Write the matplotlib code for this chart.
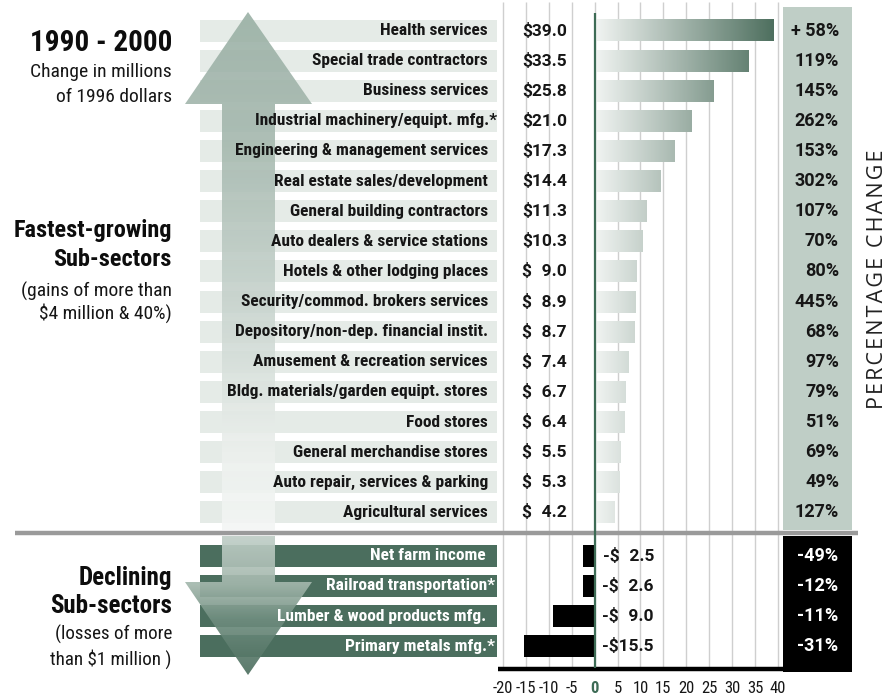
import numpy as np
import matplotlib
matplotlib.use("Agg")
import matplotlib.pyplot as plt
from matplotlib.patches import Polygon, Rectangle
from matplotlib.colors import LinearSegmentedColormap
from matplotlib import font_manager

# ---- data -------------------------------------------------------------
gain_labels = [
    "Health services", "Special trade contractors", "Business services",
    "Industrial machinery/equipt. mfg.*", "Engineering & management services",
    "Real estate sales/development", "General building contractors",
    "Auto dealers & service stations", "Hotels & other lodging places",
    "Security/commod. brokers services", "Depository/non-dep. financial instit.",
    "Amusement & recreation services", "Bldg. materials/garden equipt. stores",
    "Food stores", "General merchandise stores", "Auto repair, services & parking",
    "Agricultural services",
]
gain_values = [39.0, 33.5, 25.8, 21.0, 17.3, 14.4, 11.3, 10.3, 9.0, 8.9,
               8.7, 7.4, 6.7, 6.4, 5.5, 5.3, 4.2]
gain_pct = ["+ 58%", "119%", "145%", "262%", "153%", "302%", "107%", "70%",
            "80%", "445%", "68%", "97%", "79%", "51%", "69%", "49%", "127%"]

loss_labels = ["Net farm income", "Railroad transportation*",
               "Lumber & wood products mfg.", "Primary metals mfg.*"]
loss_values = [-2.5, -2.6, -9.0, -15.5]
loss_pct = ["-49%", "-12%", "-11%", "-31%"]

x_ticks = [-20, -15, -10, -5, 0, 5, 10, 15, 20, 25, 30, 35, 40]

# ---- fonts ------------------------------------------------------------
installed = {f.name for f in font_manager.fontManager.ttflist}


def pick(*names):
    return [f for f in list(names) + ["DejaVu Sans"] if f in installed]


NARROW = pick("Roboto Condensed", "Liberation Sans Narrow", "Lato", "Roboto")
NUMS = pick("Roboto", "Lato", "Open Sans")
PLAIN = pick("Open Sans", "Lato")
plt.rcParams["font.family"] = NARROW

# ---- colours ----------------------------------------------------------
BAND = "#e5ebe7"
DARK_GREEN = "#4b6e5e"
ZERO_GREEN = "#3d6b55"
PCT_BOX = "#bfcec6"
GRID = "#cfcfcf"
SEP = "#9a9a9a"
INK = "#161616"

bar_cmap = LinearSegmentedColormap.from_list("bar", ["#f1f4f2", "#4a6c5b"])
up_cmap = LinearSegmentedColormap.from_list(
    "up", [(0.0, "#9ab0a5"), (0.25, "#a5b8ae"), (0.55, "#c6d2cc"),
           (0.85, "#ecf0ed"), (1.0, "#f4f6f5")])
down_cmap = LinearSegmentedColormap.from_list(
    "down", [(0.0, "#c0cec7"), (0.35, "#a3b7ac"), (0.6, "#6f8d7f"), (1.0, "#4d6f5f")])

# ---- figure & coordinate system --------------------------------------
W, H = 887, 698
fig = plt.figure(figsize=(W / 100, H / 100), dpi=100)
ax = fig.add_axes([0, 0, 1, 1])

# horizontal: -20 .. 40 spans 503 .. 778 px ; vertical: one unit per row
PX0, PX1 = 503.0, 778.0
UPX = 60.0 / (PX1 - PX0)
ROW0, ROWH = 30.5, 30.12


def xd(px):
    return -20 + (px - PX0) * UPX


def yd(py):
    return (py - ROW0) / ROWH


gain_y = np.arange(len(gain_values), dtype=float)
loss_y = yd(555.5) + np.arange(len(loss_values)) * (30.3 / ROWH)
BH = 22 / ROWH  # bar thickness in row units

# vertical grid lines and zero line
ax.vlines(x_ticks, yd(2), yd(668), color=GRID, lw=1.0, zorder=1)
ax.vlines(0, yd(13), yd(668), color=ZERO_GREEN, lw=1.6, zorder=6)

# percentage-change columns
ax.add_patch(Rectangle((xd(783), yd(7)), xd(852) - xd(783), yd(530) - yd(7),
                       fc=PCT_BOX, ec="none", zorder=2))
ax.add_patch(Rectangle((xd(783), yd(536)), xd(852) - xd(783), yd(672) - yd(536),
                       fc="black", ec="none", zorder=2))

# label bands
for y in gain_y:
    ax.add_patch(Rectangle((xd(200), y - BH / 2), xd(497) - xd(200), BH,
                           fc=BAND, ec="none", zorder=2))
for y in loss_y:
    ax.add_patch(Rectangle((xd(200), y - BH / 2), xd(497) - xd(200), BH,
                           fc=DARK_GREEN, ec="none", zorder=2))


def gradient_arrow(pts_px, cmap, top_px, bot_px, alpha=1.0):
    pts = [(xd(x), yd(y)) for x, y in pts_px]
    poly = Polygon(pts, closed=True, fc="none", ec="none", zorder=3)
    ax.add_patch(poly)
    grad = np.linspace(0, 1, 256)[:, None]
    xs = [p[0] for p in pts]
    im = ax.imshow(grad, cmap=cmap, aspect="auto", interpolation="bilinear",
                   extent=(min(xs), max(xs), yd(bot_px), yd(top_px)),
                   zorder=3, alpha=alpha)
    im.set_clip_path(poly)


# up arrow (growth) and down arrow (decline)
gradient_arrow([(248, 12), (312, 104), (275, 104), (275, 530), (222, 530),
                (222, 104), (185, 104)], up_cmap, 12, 530, alpha=0.9)
gradient_arrow([(222, 536), (275, 536), (275, 582), (312, 582), (248, 675),
                (185, 582), (222, 582)], down_cmap, 536, 675, alpha=0.92)

# gradient bars for gains
for y, v in zip(gain_y, gain_values):
    ax.imshow(np.linspace(0, v, 256)[None, :], cmap=bar_cmap, vmin=0, vmax=40,
              aspect="auto", interpolation="bilinear",
              extent=(0, v, y + BH / 2, y - BH / 2), zorder=4)
# solid bars for losses
ax.barh(loss_y, loss_values, height=BH, color="black", zorder=4)

ax.set_xlim(xd(0), xd(W))
ax.set_ylim(yd(H), yd(0))
ax.axis("off")

# separator and base line
ax.hlines(yd(533), xd(15), xd(858), color=SEP, lw=3.2, zorder=5)
ax.hlines(yd(669), xd(498), xd(852), color="black", lw=3.2, zorder=5)

LBL = 12.5
VAL = 12.5
PCT = 13
FIG_SP = "\u2007"  # digit-width space keeps the dollar signs lined up


def label_x(name, base):
    # footnote asterisks hang past the common right edge
    return xd(base + 9) if name.endswith("*") else xd(base)


def money(v):
    s = f"{abs(v):.1f}"
    return ("-$" if v < 0 else "$") + FIG_SP * (4 - len(s)) + s


for y, name, v, p in zip(gain_y, gain_labels, gain_values, gain_pct):
    ax.text(label_x(name, 488), y, name, ha="right", va="center", fontsize=LBL,
            fontweight="bold", color=INK, zorder=7)
    ax.text(xd(567), y, money(v), ha="right", va="center", fontsize=VAL,
            fontweight="bold", color=INK, family=NUMS, zorder=7)
    ax.text(xd(839), y, p, ha="right", va="center", fontsize=PCT,
            fontweight="bold", color=INK, family=NUMS, zorder=7)

for y, name, v, p in zip(loss_y, loss_labels, loss_values, loss_pct):
    ax.text(label_x(name, 486), y, name, ha="right", va="center", fontsize=LBL,
            fontweight="bold", color="white", zorder=7)
    ax.text(xd(654), y, money(v), ha="right", va="center", fontsize=VAL,
            fontweight="bold", color=INK, family=NUMS, zorder=7)
    ax.text(xd(838), y, p, ha="right", va="center", fontsize=PCT,
            fontweight="bold", color="white", family=NUMS, zorder=7)

# axis tick labels
for t in x_ticks:
    ax.text(t, yd(688), str(t), ha="center", va="center", fontsize=12,
            color=ZERO_GREEN if t == 0 else INK,
            fontweight="bold" if t == 0 else "normal", zorder=7)

# titles and section headings
RX = xd(172)
ax.text(RX, yd(43), "1990 - 2000", ha="right", va="center", fontsize=21,
        fontweight="bold", color="#0d0d0d")
ax.text(RX, yd(72), "Change in millions", ha="right", va="center", fontsize=14,
        color=INK)
ax.text(RX, yd(97), "of 1996 dollars", ha="right", va="center", fontsize=14,
        color=INK)

ax.text(RX, yd(231), "Fastest-growing", ha="right", va="center", fontsize=17.5,
        fontweight="bold", color="#0d0d0d")
ax.text(RX, yd(259), "Sub-sectors", ha="right", va="center", fontsize=17.5,
        fontweight="bold", color="#0d0d0d")
ax.text(RX, yd(291), "(gains of more than", ha="right", va="center", fontsize=14,
        color=INK)
ax.text(RX, yd(313), "$4 million & 40%)", ha="right", va="center", fontsize=14,
        color=INK)

ax.text(RX, yd(578), "Declining", ha="right", va="center", fontsize=18,
        fontweight="bold", color="#0d0d0d")
ax.text(RX, yd(606), "Sub-sectors", ha="right", va="center", fontsize=18,
        fontweight="bold", color="#0d0d0d")
ax.text(RX, yd(634), "(losses of more", ha="right", va="center", fontsize=13.7,
        color=INK)
ax.text(RX, yd(659), "than $1 million )", ha="right", va="center", fontsize=13.7,
        color=INK)

ax.text(xd(878), yd(279), "\u200a".join("PERCENTAGE CHANGE"), rotation=90,
        ha="center", va="center", fontsize=15.5, family=PLAIN, color="#222222")

fig.savefig("out.png", dpi=100)
